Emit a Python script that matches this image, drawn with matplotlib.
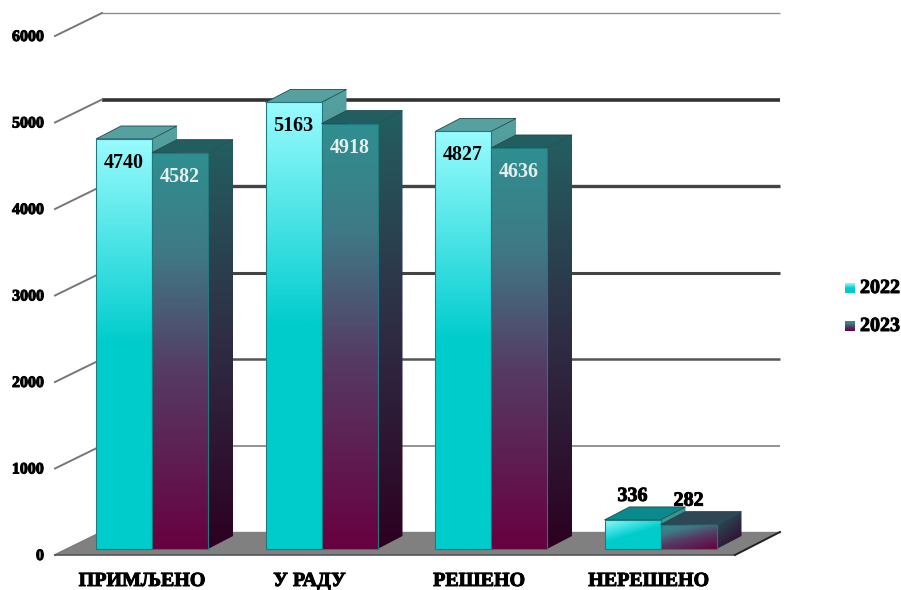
import matplotlib
matplotlib.use("Agg")
import matplotlib.pyplot as plt
import matplotlib.patheffects as pe
import numpy as np
from matplotlib.colors import LinearSegmentedColormap
from matplotlib.patches import Polygon

categories = ["ПРИМЉЕНО", "У РАДУ", "РЕШЕНО", "НЕРЕШЕНО"]
series_names = ["2022", "2023"]
values_2022 = [4740, 5163, 4827, 336]
values_2023 = [4582, 4918, 4636, 282]
y_ticks = [0, 1000, 2000, 3000, 4000, 5000, 6000]

plt.rcParams["font.family"] = ["Liberation Serif", "DejaVu Serif"]
plt.rcParams["font.weight"] = "bold"

W, H = 901, 590
scale = 0.0865      # pixels per unit
y0_px = 555         # front plane, value 0

fig = plt.figure(figsize=(W / 100, H / 100), dpi=100)
ax = fig.add_axes([0, 0, 1, 1])
ax.axis("off")

# y is in chart units, x stays in pixels
ylim = ((y0_px - H) / scale, y0_px / scale)
back_dx, back_dy = 47, 23 / scale
depth_dx, depth_dy = 25, 13 / scale
bar_base = 6 / scale
bar_w = 56
first_x = 96
group_gap = 169.5

front_cyan = LinearSegmentedColormap.from_list("c", [(0, "#98fbfd"), (0.4, "#1fd6d8"), (0.5, "#00cccc"), (1, "#00cccc")])
front_mix = LinearSegmentedColormap.from_list("m", [(0, "#2f8f90"), (0.25, "#3f7a86"), (0.55, "#553c64"), (1, "#680040")])
side_cyan = LinearSegmentedColormap.from_list("sc", [(0, "#56a0a0"), (1, "#0a7a7a")])
side_mix = LinearSegmentedColormap.from_list("sm", [(0, "#235f60"), (0.5, "#2f2c44"), (1, "#2c0020")])
heavy = [pe.withStroke(linewidth=0.7, foreground="black")]


def grad_poly(pts, cmap, zorder, tilt=0.0, edge=None):
    # gradient image clipped to a polygon
    pts = np.array(pts, dtype=float)
    x0, x1 = pts[:, 0].min(), pts[:, 0].max()
    y0, y1 = pts[:, 1].min(), pts[:, 1].max()
    xx, yy = np.meshgrid(np.linspace(0, 1, 60), np.linspace(0, 1, 200))
    g = np.clip(yy * (1 - tilt) + xx * tilt, 0, 1)
    im = ax.imshow(g, cmap=cmap, vmin=0, vmax=1, extent=(x0, x1, y0, y1),
                   aspect="auto", zorder=zorder, interpolation="bilinear")
    clip = Polygon(pts, closed=True, transform=ax.transData, fc="none", ec="none")
    ax.add_patch(clip)
    im.set_clip_path(clip)
    if edge:
        ax.add_patch(Polygon(pts, closed=True, fc="none", ec=edge, lw=0.8, zorder=zorder + 0.1))


def draw_bar(x, v, front, side, top_col, top_small, z):
    y1 = bar_base + v
    y0 = bar_base
    xr = x + bar_w
    small = v < 1000
    tilt = 0.35 if small else 0.0
    # side face
    grad_poly([(xr, y0), (xr + depth_dx, y0 + depth_dy), (xr + depth_dx, y1 + depth_dy), (xr, y1)], side, z, tilt)
    # top face
    ax.add_patch(Polygon([(x, y1), (x + depth_dx, y1 + depth_dy), (xr + depth_dx, y1 + depth_dy), (xr, y1)],
                         closed=True, fc=top_small if small else top_col, ec="#1d4a4a", lw=0.6, zorder=z + 0.2))
    # front face
    grad_poly([(x, y0), (xr, y0), (xr, y1), (x, y1)], front, z + 0.3, tilt, edge="#1e7a7c")


# back wall grid, heavier in the middle like the original
grid_style = {0: ("#808080", 1.0), 1000: ("#8a8a8a", 1.3), 2000: ("#555555", 1.8), 3000: ("#444444", 2.2),
              4000: ("#444444", 2.4), 5000: ("#333333", 2.6), 6000: ("#909090", 1.0)}
for t in y_ticks:
    col, lw = grid_style[t]
    ax.plot([55 + back_dx, 780], [t + back_dy, t + back_dy], color=col, lw=lw, zorder=1, solid_capstyle="butt")
    ax.plot([55, 55 + back_dx], [t, t + back_dy], color="#777777", lw=1.4, zorder=1)
    ax.text(44, t - 1 / scale, str(t), ha="right", va="center", fontsize=11.5, color="#000000", zorder=6,
            path_effects=heavy)

# floor
ax.add_patch(Polygon([(55, 0), (735, 0), (780, back_dy), (55 + back_dx, back_dy)], closed=True,
                     fc="#808080", ec="none", zorder=2))
ax.plot([55, 735], [0, 0], color="#555555", lw=1.2, zorder=2.1)
ax.plot([735, 780], [0, back_dy], color="#222222", lw=1.4, zorder=2.1)

for i, cat in enumerate(categories):
    x = first_x + i * group_gap
    draw_bar(x, values_2022[i], front_cyan, side_cyan, "#56a0a0", "#0a8a8c", 3 + i)
    draw_bar(x + bar_w, values_2023[i], front_mix, side_mix, "#225e60", "#2f4656", 3.5 + i)
    for xx, v, col in [(x, values_2022[i], "#000000"), (x + bar_w, values_2023[i], "#e4eeee")]:
        if v < 1000:
            ax.text(xx + bar_w / 2, bar_base + v + 24 / scale, str(v), ha="center", va="center",
                    fontsize=14.4, color="#000000", zorder=12, path_effects=heavy)
        else:
            ax.text(xx + bar_w / 2, bar_base + v - 24 / scale, str(v), ha="center", va="center",
                    fontsize=14.4, color=col, zorder=12)
    ax.text(x + 46 if i == 0 else x + 44, -26 / scale, cat, ha="center", va="center", fontsize=14.4, zorder=6,
            path_effects=heavy)

# legend
for name, cmap, py in zip(series_names, [front_cyan, front_mix], [288, 326]):
    yc = (y0_px - py) / scale
    h = 5 / scale
    grad_poly([(845, yc - h), (855, yc - h), (855, yc + h), (845, yc + h)], cmap, 6)
    ax.text(860, yc, name, ha="left", va="center", fontsize=14.4, zorder=6, path_effects=heavy)

ax.set_xlim(0, W)
ax.set_ylim(*ylim)
fig.savefig("out.png", dpi=100, facecolor="white")
